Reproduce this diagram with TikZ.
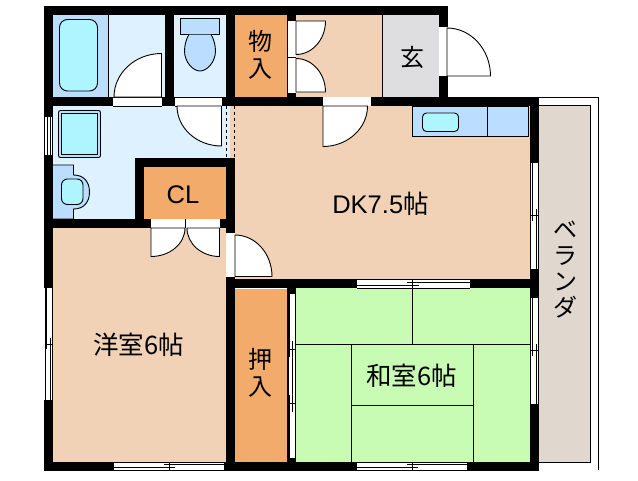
\documentclass[tikz,border=0pt]{standalone}
\usepackage{fontspec}
\newfontfamily\jpfont{Noto Sans CJK JP}
\newfontfamily\latinfont{Liberation Sans}
\definecolor{washblue}{HTML}{DDF1FF}
\definecolor{fitblue}{HTML}{BBDDFF}
\definecolor{tubcyan}{HTML}{AFF5FF}
\definecolor{floorpeach}{HTML}{F2D2B6}
\definecolor{closetorange}{HTML}{F3AB6C}
\definecolor{tatamigreen}{HTML}{C8FCB4}
\definecolor{entrygrey}{HTML}{DEDEE0}
\definecolor{balconytan}{HTML}{E0D8CE}
\tikzset{
  wall/.style={fill=black},
  gap/.style={fill=white},
  thin line/.style={draw=black,line width=0.9pt},
  fitting/.style={draw=black,line width=0.9pt,fill=fitblue},
  basin/.style={draw=black,line width=0.9pt,fill=tubcyan},
  doorleaf/.style={draw=black,line width=0.9pt,fill=white},
  rail/.style={draw=black,line width=0.8pt},
  roomlabel/.style={inner sep=0pt,font=\fontsize{25.5}{28}\selectfont\jpfont,align=center},
}
\begin{document}
\begin{tikzpicture}[x=1pt,y=-1pt]
\useasboundingbox (0,0) rectangle (638,480);
\fill [washblue] (53,15) rectangle (230,219);
\fill [fitblue] (53,15) rectangle (108.5,97);
\fill [floorpeach] (235,15) rectangle (382.5,97);
\fill [entrygrey] (382.5,15) rectangle (438.5,97);
\fill [closetorange] (235,15) rectangle (287,97);
\fill [floorpeach] (230,106) rectangle (530,279);
\fill [floorpeach] (53,228) rectangle (226,461.5);
\fill [closetorange] (144,167) rectangle (226,219);
\fill [closetorange] (235,288.5) rectangle (287,461.5);
\fill [tatamigreen] (296,288) rectangle (530,461.5);
\draw [thin line] (539,97.5) -- (598.5,97.5) -- (598.5,470);
\draw [thin line,fill=balconytan] (539,105.5) -- (590.5,105.5) -- (590.5,462.5) -- (539,462.5);
\draw [thin line] (108.5,15) -- (108.5,97);
\draw [thin line] (382.5,15) -- (382.5,97);
\draw [basin,rounded corners=8pt] (59.5,19.5) rectangle (97.5,91);
\draw [fitting] (180,18.5) rectangle (219.5,34.5);
\draw [fitting] (189,34.5) .. controls (186,39) and (184.5,46) .. (184.5,51) .. controls (184.5,62) and (193,71) .. (200,71) .. controls (207,71) and (215.5,62) .. (215.5,51) .. controls (215.5,46) and (214,39) .. (211,34.5);
\draw [fitting,rounded corners=2pt] (58.5,110.5) rectangle (100.5,157.5);
\draw [basin] (61.5,113.5) rectangle (97,154.5);
\draw [fitting] (53,165) -- (73.5,165) -- (73.5,175) .. controls (84,175) and (89.5,182) .. (89.5,192) .. controls (89.5,202) and (84,209) .. (73.5,209) -- (73.5,219) -- (53,219);
\draw [basin,rounded corners=6pt] (61.5,179) rectangle (83,204.5);
\draw [fitting] (412.5,106) rectangle (528.5,136.5);
\draw [thin line] (487.5,106) -- (487.5,136.5);
\draw [basin,rounded corners=4pt] (422.5,113) rectangle (458.5,131.5);
\draw [thin line,dashed] (226.5,106) -- (226.5,158);
\draw [thin line,dashed] (234.5,106) -- (234.5,158);
\draw [thin line] (412.5,288) -- (412.5,344.5);
\draw [thin line] (296,344.5) -- (530,344.5);
\draw [thin line] (351.5,344.5) -- (351.5,461.5);
\draw [thin line] (473.5,344.5) -- (473.5,461.5);
\draw [thin line] (351.5,405.5) -- (473.5,405.5);
\fill [wall] (44,6) rectangle (447.5,15);
\fill [wall] (44,6) rectangle (53,470.5);
\fill [wall] (165,6) rectangle (174,106);
\fill [wall] (226,6) rectangle (235,106);
\fill [wall] (287,6) rectangle (296,106);
\fill [wall] (438.5,6) rectangle (447.5,106);
\fill [wall] (44,97) rectangle (539,106);
\fill [wall] (530,97) rectangle (539,470.5);
\fill [wall] (135,158) rectangle (235,167);
\fill [wall] (135,158) rectangle (144,228);
\fill [wall] (226,158) rectangle (235,470.5);
\fill [wall] (44,219) rectangle (235,228);
\fill [wall] (226,279) rectangle (539,288);
\fill [wall] (287,279) rectangle (296,470.5);
\fill [wall] (44,461.5) rectangle (539,470.5);
\fill [gap] (113,97) rectangle (162,106);
\fill [gap] (175,97) rectangle (222,106);
\fill [gap] (287.5,21) rectangle (296,93);
\fill [gap] (439,27) rectangle (447.5,76);
\fill [gap] (323,97) rectangle (371,106);
\fill [gap] (151,219) rectangle (220,228);
\fill [gap] (226,233) rectangle (235,277);
\fill [gap] (44,117) rectangle (53,155);
\fill [gap] (44,288) rectangle (53,400);
\fill [gap] (114,461.5) rectangle (224,470.5);
\fill [gap] (357,279) rectangle (470,288);
\fill [gap] (357,461.5) rectangle (467,470.5);
\fill [gap] (287.5,294) rectangle (296,458);
\fill [gap] (530,163) rectangle (539,269);
\fill [gap] (530,298) rectangle (539,404);
\draw [thin line] (113,106) -- (162,106);
\draw [thin line] (175,97.5) -- (222,97.5);
\draw [thin line] (113,97.5) -- (162,97.5);
\draw [thin line] (175,106) -- (222,106);
\draw [doorleaf] (161.5,97) -- (161.5,53.5) arc [start angle=270,end angle=180,x radius=47.5,y radius=43.5] -- cycle;
\draw [doorleaf] (221.5,106) -- (221.5,146) arc [start angle=90,end angle=180,x radius=44.5,y radius=40] -- cycle;
\draw [thin line] (287.5,57.5) -- (296,57.5);
\draw [doorleaf] (296,21) -- (325.5,21) arc [start angle=0,end angle=90,x radius=29.5,y radius=33.5] -- cycle;
\draw [doorleaf] (296,92) -- (325.5,92) arc [start angle=0,end angle=-90,x radius=29.5,y radius=33.5] -- cycle;
\draw [doorleaf] (447,76) -- (490.5,76) arc [start angle=0,end angle=-90,x radius=43.5,y radius=48] -- cycle;
\draw [doorleaf] (323,106) -- (323,146.5) arc [start angle=90,end angle=0,x radius=44.5,y radius=40.5] -- cycle;
\draw [thin line] (185.5,219) -- (185.5,228);
\draw [doorleaf] (151,228) -- (151,256.5) arc [start angle=90,end angle=0,x radius=34,y radius=28.5] -- cycle;
\draw [doorleaf] (219.5,228) -- (219.5,256.5) arc [start angle=90,end angle=180,x radius=32.5,y radius=28.5] -- cycle;
\draw [doorleaf] (235,276.5) -- (272,276.5) arc [start angle=0,end angle=-90,x radius=37,y radius=41.5] -- cycle;
\draw [rail] (44.5,117) -- (44.5,155);
\draw [rail] (47.5,117) -- (47.5,155);
\draw [rail] (50.5,117) -- (50.5,155);
\draw [rail] (52.5,117) -- (52.5,155);
\draw [rail] (45,288) -- (45,400);
\draw [rail] (46.7,288) -- (46.7,349);
\draw [rail] (50,338) -- (50,400);
\draw [rail] (52.3,288) -- (52.3,400);
\draw [rail] (45,344.5) -- (52.5,344.5);
\draw [rail] (114,462.3) -- (224,462.3);
\draw [rail] (164,464.3) -- (224,464.3);
\draw [rail] (114,467.7) -- (175,467.7);
\draw [rail] (114,470) -- (224,470);
\draw [rail] (169.5,462) -- (169.5,470);
\draw [rail] (357,279.3) -- (470,279.3);
\draw [rail] (407,282.3) -- (470,282.3);
\draw [rail] (357,285.3) -- (419,285.3);
\draw [rail] (357,288) -- (470,288);
\draw [rail] (412.5,279) -- (412.5,288);
\draw [rail] (357,462.3) -- (467,462.3);
\draw [rail] (407,464.3) -- (467,464.3);
\draw [rail] (357,467.7) -- (418,467.7);
\draw [rail] (357,470) -- (467,470);
\draw [rail] (412.5,462) -- (412.5,470);
\draw [rail] (288,294) -- (288,458);
\draw [rail] (295.5,294) -- (295.5,458);
\draw [rail] (289.3,294) -- (289.3,357);
\draw [rail] (292.7,341) -- (292.7,412);
\draw [rail] (289.3,395) -- (289.3,458);
\draw [rail] (288,349) -- (296,349);
\draw [rail] (288,403.5) -- (296,403.5);
\draw [rail] (530.5,163) -- (530.5,269);
\draw [rail] (532.3,163) -- (532.3,221);
\draw [rail] (536.7,209) -- (536.7,269);
\draw [rail] (538.7,163) -- (538.7,269);
\draw [rail] (530.5,215) -- (539,215);
\draw [rail] (530.5,298) -- (530.5,404);
\draw [rail] (532.3,298) -- (532.3,356);
\draw [rail] (536.7,344) -- (536.7,404);
\draw [rail] (538.7,298) -- (538.7,404);
\draw [rail] (530.5,350) -- (539,350);
\node [roomlabel,font=\fontsize{24}{26.5}\selectfont\jpfont] (storelabel) at (260.5,55) {物\\入};
\node [roomlabel,font=\fontsize{24}{26}\selectfont\jpfont] (entrylabel) at (412,57) {玄};
\node [roomlabel,font=\fontsize{25.5}{28}\selectfont\latinfont] (closetlabel) at (183,195) {CL};
\node [roomlabel] (dininglabel) at (380.5,203.5) {{\latinfont DK7.5}帖};
\node [roomlabel] (westernlabel) at (138.5,345) {洋室6帖};
\node [roomlabel,font=\fontsize{24}{26.5}\selectfont\jpfont] (oshiirelabel) at (260,373) {押\\入};
\node [roomlabel] (japaneselabel) at (411.5,376) {和室6帖};
\node [roomlabel,font=\fontsize{24}{26}\selectfont\jpfont] (balconylabel) at (565,270) {ベ\\ラ\\ン\\ダ};
\end{tikzpicture}
\end{document}
